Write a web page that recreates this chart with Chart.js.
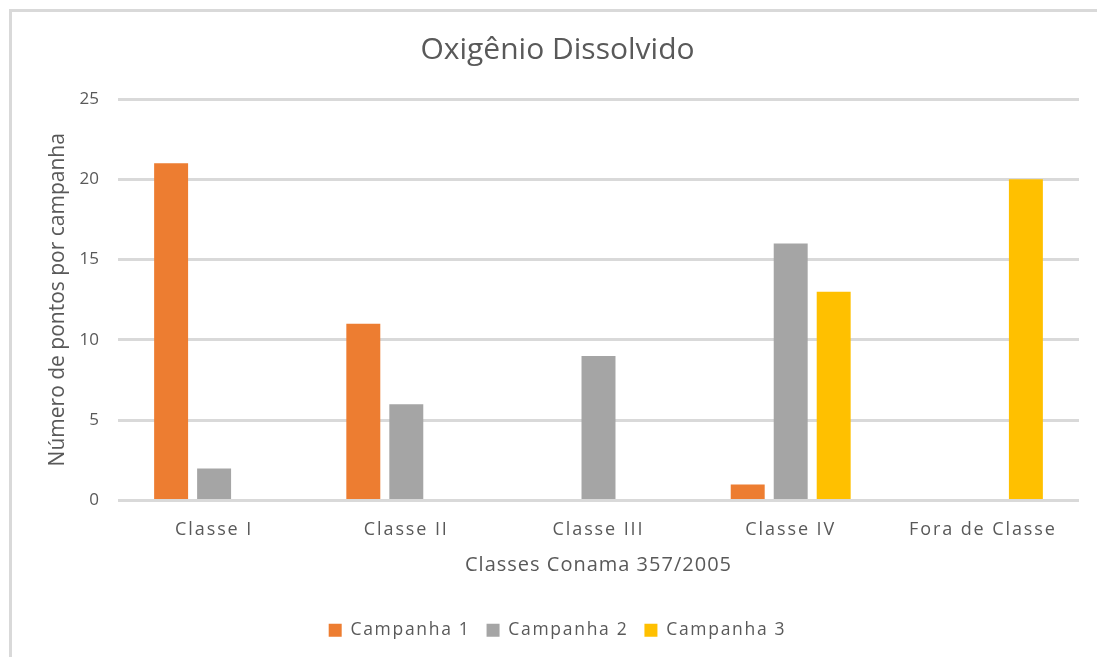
<!DOCTYPE html>
<html>
<head>
<meta charset="utf-8">
<script src="https://cdn.jsdelivr.net/npm/chart.js@4"></script>
<style>
  html, body { margin: 0; padding: 0; background: #fff; overflow: hidden; }
  #wrap { position: relative; width: 1097px; height: 657px; }
  #frame { position: absolute; left: 9px; top: 9px; width: 1200px; height: 800px;
           border-top: 3px solid #d9d9d9; border-left: 3px solid #d9d9d9; box-sizing: border-box; }
  canvas { position: absolute; left: 0; top: 0; }
</style>
</head>
<body>
<div id="wrap">
  <div id="frame"></div>
  <canvas id="c" width="1097" height="657"></canvas>
</div>
<script>
const categories = ['Classe I', 'Classe II', 'Classe III', 'Classe IV', 'Fora de Classe'];
const campanha1 = [21, 11, 0, 1, 0];
const campanha2 = [2, 6, 9, 16, 0];
const campanha3 = [0, 0, 0, 13, 20];
const seriesNames = ['Campanha 1', 'Campanha 2', 'Campanha 3'];
const yTicks = [0, 5, 10, 15, 20, 25];

const TEXT = '#595959';
const GRID = '#d9d9d9';
const FAMILY = "'Open Sans', 'Noto Sans', sans-serif";

// Wider tracking for category labels, legend and x title; none for the titles and y ticks.
const spacingBySize = { '18px': '1.9px', '17.5px': '1.7px', '20px': '1px' };
const canvas = document.getElementById('c');
const ctx = canvas.getContext('2d');
function applySpacing(c) {
  const m = /(\d+(?:\.\d+)?px)/.exec(c.font);
  c.letterSpacing = (m && spacingBySize[m[1]]) || '0px';
}
const origFill = ctx.fillText;
ctx.fillText = function (t, x, y, mw) {
  applySpacing(this);
  return mw === undefined ? origFill.call(this, t, x, y) : origFill.call(this, t, x, y, mw);
};
const origMeasure = ctx.measureText;
ctx.measureText = function (t) {
  applySpacing(this);
  return origMeasure.call(this, t);
};

new Chart(ctx, {
  type: 'bar',
  data: {
    labels: categories,
    datasets: [
      { label: seriesNames[0], data: campanha1, backgroundColor: '#ED7D31' },
      { label: seriesNames[1], data: campanha2, backgroundColor: '#A5A5A5' },
      { label: seriesNames[2], data: campanha3, backgroundColor: '#FFC000' }
    ]
  },
  options: {
    responsive: false,
    animation: false,
    devicePixelRatio: 1,
    categoryPercentage: 0.671,
    barPercentage: 0.79,
    layout: { padding: { left: 36, right: 18, top: 12, bottom: 8 } },
    plugins: {
      tooltip: { enabled: false },
      title: {
        display: true,
        text: 'Oxigênio Dissolvido',
        color: TEXT,
        font: { family: FAMILY, size: 30, weight: 'normal', lineHeight: 1.2 },
        padding: { top: 20, bottom: 31 }
      },
      legend: {
        position: 'bottom',
        labels: {
          color: TEXT,
          font: { family: FAMILY, size: 17.5 },
          boxWidth: 13,
          boxHeight: 13,
          padding: 16
        }
      }
    },
    scales: {
      x: {
        grid: { display: false },
        border: { display: false },
        ticks: { color: TEXT, font: { family: FAMILY, size: 18 }, padding: 11, maxRotation: 0 },
        title: {
          display: true,
          text: 'Classes Conama 357/2005',
          color: TEXT,
          font: { family: FAMILY, size: 20, lineHeight: 1.2 },
          padding: { top: 0, bottom: 28 }
        },
        afterFit: s => { s.height = 105; }
      },
      y: {
        min: 0,
        max: 25,
        afterBuildTicks: s => { s.ticks = yTicks.map(v => ({ value: v })); },
        grid: { color: GRID, lineWidth: 3, drawTicks: false },
        border: { display: false },
        ticks: { color: TEXT, font: { family: FAMILY, size: 17 }, padding: 19 },
        title: {
          display: true,
          text: 'Número de pontos por campanha',
          color: TEXT,
          font: { family: FAMILY, size: 21, lineHeight: 1.2 },
          padding: { top: 9, bottom: 0 }
        },
        afterFit: s => { s.width = 82; }
      }
    }
  }
});
</script>
</body>
</html>
